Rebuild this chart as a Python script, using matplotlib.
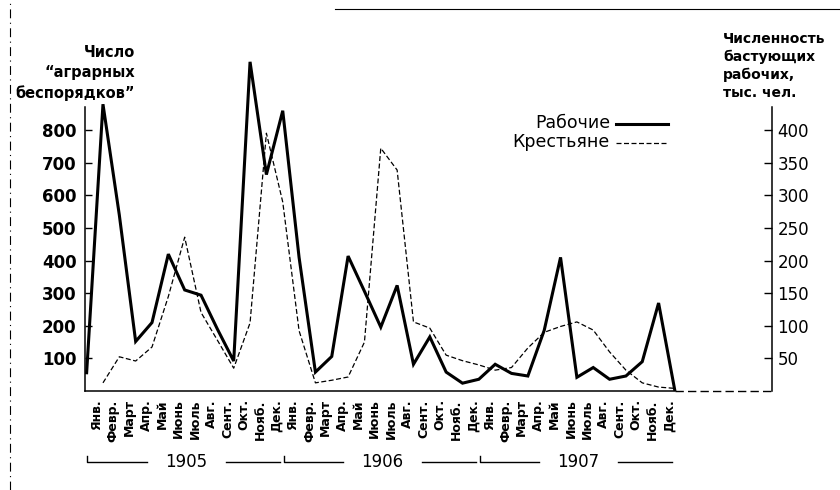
import matplotlib
matplotlib.use("Agg")
import matplotlib.pyplot as plt
import numpy as np
from matplotlib.transforms import ScaledTranslation, blended_transform_factory

# ─── Data ─────────────────────────────────────────────
MONTHS = ["Янв.", "Февр.", "Март", "Апр.", "Май", "Июнь",
          "Июль", "Авг.", "Сент.", "Окт.", "Нояб.", "Дек."]
YEARS = ["1905", "1906", "1907"]

# strikers, thousand people (right axis); value before Jan 1905
WORKERS_DEC_1904 = 28
WORKERS_1905 = [440, 270, 76, 105, 210, 155, 147, 95, 46, 505, 332, 430]
WORKERS_1906 = [205, 29, 53, 207, 153, 98, 162, 41, 83, 29, 12, 18]
WORKERS_1907 = [41, 27, 23, 93, 205, 21, 36, 18, 23, 45, 135, 0]

# number of "agrarian disturbances" (left axis)
PEASANTS_1905 = [25, 105, 92, 135, 290, 472, 241, 156, 70, 209, 791, 580]
PEASANTS_1906 = [185, 25, 33, 43, 150, 745, 678, 212, 193, 110, 93, 80]
PEASANTS_1907 = [64, 72, 132, 180, 198, 212, 187, 120, 64, 25, 12, 8]

LEFT_TICKS = [100, 200, 300, 400, 500, 600, 700, 800]
RIGHT_TICKS = [50, 100, 150, 200, 250, 300, 350, 400]


def px(x, y):
    """pixel position (from top-left) -> figure fraction"""
    return x / 840, 1 - y / 490


fig = plt.figure(figsize=(8.4, 4.9), dpi=100)
ax = fig.add_axes([85 / 840, 99 / 490, 687 / 840, 351 / 490])
ax2 = ax.twinx()

workers = WORKERS_1905 + WORKERS_1906 + WORKERS_1907
peasants = PEASANTS_1905 + PEASANTS_1906 + PEASANTS_1907
x = np.arange(len(workers))

ax.plot(x, peasants, color="black", lw=0.9, ls=(0, (4, 2)))
ax2.plot(np.r_[-1, x], [WORKERS_DEC_1904] + workers, color="black", lw=2.2,
         solid_joinstyle="miter")

ax.set_xlim(-1.1, 40.94)
ax.set_ylim(0, 1077)
ax2.set_ylim(0, 1077 / 2)

for a in (ax, ax2):
    a.spines["top"].set_visible(False)
ax.spines["right"].set_visible(False)
ax2.spines["left"].set_visible(False)
ax2.spines["bottom"].set_visible(False)
ax.spines["left"].set_bounds(0, 870)
ax2.spines["right"].set_bounds(0, 435)
ax.spines["bottom"].set_bounds(-1.1, 35)
for s in ("left", "bottom"):
    ax.spines[s].set_linewidth(1.1)
ax2.spines["right"].set_linewidth(1.1)
ax.plot([35, 40.94], [0, 0], color="black", lw=1.0, ls=(0, (6, 3)),
        clip_on=False)

ax.set_yticks(LEFT_TICKS)
ax.set_yticklabels([str(v) for v in LEFT_TICKS], fontsize=12, fontweight="bold")
ax.tick_params(axis="y", direction="in", length=5, pad=6, width=1)
ax2.set_yticks(RIGHT_TICKS)
ax2.set_yticklabels([str(v) for v in RIGHT_TICKS], fontsize=12)
ax2.tick_params(axis="y", direction="in", length=6, pad=4, width=1)

ax.set_xticks(x)
ax.set_xticklabels(MONTHS * 3, rotation=90, fontsize=9, fontweight="bold",
                   va="top", ha="center")
ax.tick_params(axis="x", length=0, pad=6)
shift = ScaledTranslation(-0.06, 0, fig.dpi_scale_trans)
for lbl in ax.get_xticklabels():
    lbl.set_transform(lbl.get_transform() + shift)

# year brackets under the month labels
tr = blended_transform_factory(ax.transData, fig.transFigure)
y_line = px(0, 462)[1]
y_tick = px(0, 456)[1]
for k, year in enumerate(YEARS):
    start, end, mid = 12 * k - 0.95, 12 * k + 10.85, 12 * k + 5.1
    ax.plot([start, start, mid - 2.4], [y_tick, y_line, y_line], color="black",
            lw=1.0, transform=tr, clip_on=False)
    ax.plot([mid + 2.4, end], [y_line, y_line], color="black", lw=1.0,
            transform=tr, clip_on=False)
    ax.text(mid, y_line, year, transform=tr, ha="center", va="center",
            fontsize=12)

# axis titles
fig.text(*px(135, 73), "Число\n“аграрных\nбеспорядков”", ha="right", va="center",
         fontsize=10.5, fontweight="bold", linespacing=1.38)
fig.text(*px(723, 66), "Численность\nбастующих\nрабочих,\nтыс. чел.", ha="left",
         va="center", fontsize=10, fontweight="bold", linespacing=1.33)

# legend
fig.text(*px(610, 123), "Рабочие", ha="right", va="center", fontsize=12.5)
fig.text(*px(610, 142), "Крестьяне", ha="right", va="center", fontsize=12.5)
fig.add_artist(plt.Line2D([616 / 840, 668 / 840], [px(0, 124)[1]] * 2,
                          color="black", lw=2.2))
fig.add_artist(plt.Line2D([616 / 840, 668 / 840], [px(0, 143)[1]] * 2,
                          color="black", lw=0.9, ls=(0, (4, 2))))

# scan edges
fig.add_artist(plt.Line2D([335 / 840, 1], [px(0, 9)[1]] * 2, color="black",
                          lw=0.8))
fig.add_artist(plt.Line2D([10 / 840] * 2, [0, 1], color="black", lw=0.8,
                          ls=(0, (8, 4, 1, 4))))

fig.savefig("out.png", dpi=100)
